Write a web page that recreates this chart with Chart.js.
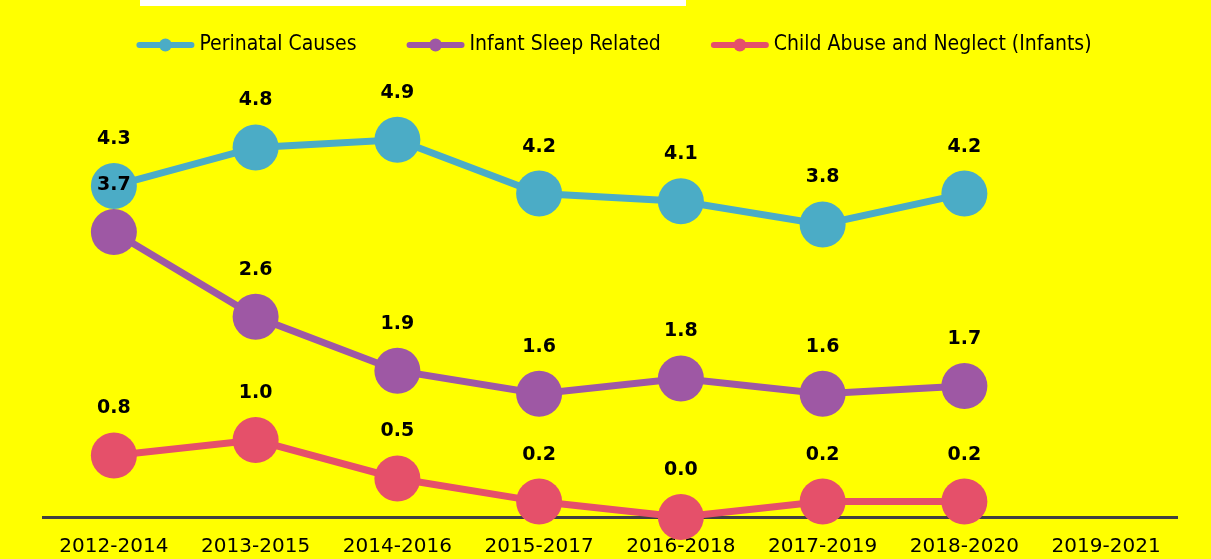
<!DOCTYPE html>
<html>
<head>
<meta charset="utf-8">
<script src="https://cdn.jsdelivr.net/npm/chart.js@4.4.0/dist/chart.umd.min.js"></script>
<style>
  html, body { margin: 0; padding: 0; background: #ffff00; }
  #wrap { width: 1211px; height: 559px; position: relative; }
</style>
</head>
<body>
<div id="wrap"><canvas id="grafico"></canvas></div>
<script>
const periodos = ['2012-2014', '2013-2015', '2014-2016', '2015-2017', '2016-2018', '2017-2019', '2018-2020', '2019-2021']
const perinatal = [4.3, 4.8, 4.9, 4.2, 4.1, 3.8, 4.2, null]
const sonoInfantil = [3.7, 2.6, 1.9, 1.6, 1.8, 1.6, 1.7, null]
const abusoInfantil = [0.8, 1.0, 0.5, 0.2, 0.0, 0.2, 0.2, null]

const azul = '#4bacc6'
const roxo = '#9e58a4'
const vermelho = '#e5506a'

const fundo = {
    id: 'fundo',
    beforeDraw(chart) {
        const ctx = chart.ctx
        ctx.save()
        ctx.fillStyle = '#ffff00'
        ctx.fillRect(0, 0, chart.width, chart.height)
        ctx.fillStyle = '#ffffff'
        ctx.fillRect(140, 0, 546, 6)
        ctx.restore()
    }
}

// legenda desenhada a mao: linha com bolinha + texto
const legenda = {
    id: 'legenda',
    afterDraw(chart) {
        const ctx = chart.ctx
        ctx.save()
        ctx.font = '21px "DejaVu Sans Condensed", "DejaVu Sans"'
        ctx.textBaseline = 'middle'
        const itens = chart.data.datasets.map(ds => ({
            texto: ds.label, cor: ds.borderColor, w: ctx.measureText(ds.label).width
        }))
        const marca = 58, gap = 5, espaco = 50
        let total = 0
        itens.forEach((it, i) => { total += marca + gap + it.w + (i ? espaco : 0) })
        let x = 614 - total / 2
        const y = 45
        itens.forEach(it => {
            ctx.strokeStyle = it.cor
            ctx.lineWidth = 6
            ctx.lineCap = 'round'
            ctx.beginPath()
            ctx.moveTo(x + 3, y)
            ctx.lineTo(x + marca - 3, y)
            ctx.stroke()
            ctx.fillStyle = it.cor
            ctx.beginPath()
            ctx.arc(x + marca / 2, y, 6.5, 0, Math.PI * 2)
            ctx.fill()
            ctx.fillStyle = '#000000'
            ctx.fillText(it.texto, x + marca + gap, y)
            x += marca + gap + it.w + espaco
        })
        ctx.restore()
    }
}

const rotulos = {
    id: 'rotulos',
    afterDatasetsDraw(chart) {
        const ctx = chart.ctx
        ctx.save()
        ctx.font = 'bold 19px "DejaVu Sans"'
        ctx.fillStyle = '#000000'
        ctx.textAlign = 'center'
        ctx.textBaseline = 'middle'
        chart.data.datasets.forEach((ds, i) => {
            chart.getDatasetMeta(i).data.forEach((pt, j) => {
                const v = ds.data[j]
                if (v === null || v === undefined) return
                ctx.fillText(v.toFixed(1), pt.x, pt.y - 47)
            })
        })
        ctx.restore()
    }
}

function serie(nome, dados, cor) {
    return {
        label: nome,
        data: dados,
        borderColor: cor,
        backgroundColor: cor,
        borderWidth: 7,
        pointRadius: 23,
        pointHoverRadius: 23,
        pointBackgroundColor: cor,
        pointBorderWidth: 0,
        pointStyle: 'circle',
        tension: 0,
        clip: false
    }
}

const ctx = document.getElementById('grafico').getContext('2d')

const grafico = new Chart(ctx, {
    type: 'line',
    data: {
        labels: periodos,
        datasets: [
            serie('Perinatal Causes', perinatal, azul),
            serie('Infant Sleep Related', sonoInfantil, roxo),
            serie('Child Abuse and Neglect (Infants)', abusoInfantil, vermelho)
        ]
    },
    options: {
        responsive: true,
        maintainAspectRatio: false,
        animation: false,
        layout: {
            padding: { left: 43, right: 34, top: 55, bottom: 0 }
        },
        plugins: {
            tooltip: { enabled: false },
            legend: { display: false }
        },
        scales: {
            x: {
                offset: true,
                afterFit(scale) { scale.height = 42 },
                grid: { display: false, drawTicks: false },
                border: { display: true, color: '#404040', width: 3 },
                ticks: {
                    color: '#000000',
                    padding: 20,
                    font: { family: '"DejaVu Sans"', size: 20, lineHeight: 1 }
                }
            },
            y: {
                display: false,
                min: 0,
                max: 6
            }
        }
    },
    plugins: [fundo, rotulos, legenda]
})
</script>
</body>
</html>
